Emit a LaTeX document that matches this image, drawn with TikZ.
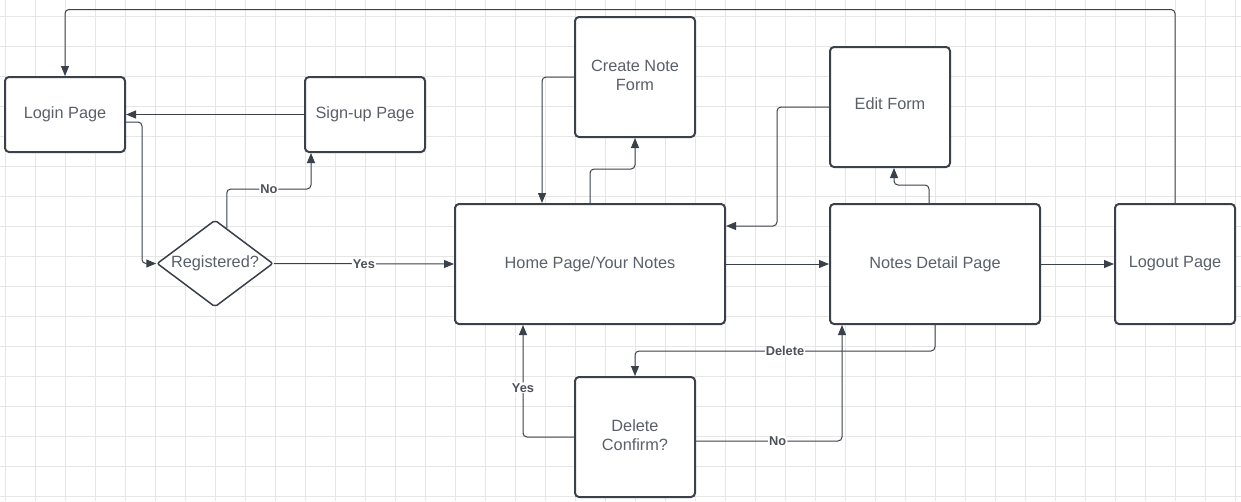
\documentclass[tikz,border=0pt]{standalone}
\usepackage{fontspec}
\setmainfont{Liberation Sans}
\usetikzlibrary{arrows.meta,shapes.geometric,calc}
\definecolor{gridc}{HTML}{E6E6E6}
\definecolor{linec}{HTML}{3A414A}
\definecolor{textc}{HTML}{5A6069}
\definecolor{lblc}{HTML}{4D5159}
\tikzset{
  box/.style={draw=linec, line width=2pt, fill=white, rounded corners=4pt, inner sep=0pt,
    text=textc, font=\fontsize{16.3}{20}\selectfont, align=center},
  decision/.style={diamond, draw=linec, line width=1.5pt, fill=white, inner sep=0pt,
    aspect=1.333, minimum width=116pt, minimum height=87pt, rounded corners=2pt,
    text=textc, font=\fontsize{16.3}{20}\selectfont},
  conn/.style={draw=linec, line width=1pt, rounded corners=4pt, -{Triangle[length=10pt,width=8pt]}},
  lbl/.style={fill=white, inner sep=1pt, text=lblc, font=\bfseries\fontsize{12.8}{14}\selectfont},
  gridline/.style={draw=gridc, line width=1pt}
}
\begin{document}
\begin{tikzpicture}[x=1pt,y=-1pt]
\useasboundingbox[fill=white] (0,0) rectangle (1241,501);
\foreach \gx in {5,35,...,1235} \draw[gridline] (\gx,0) -- (\gx,501);
\foreach \gy in {16,46,...,496} \draw[gridline] (0,\gy) -- (1241,\gy);

\node[box, minimum width=120pt, minimum height=75pt] (login) at (65,114.5) {Login Page};
\node[box, minimum width=120pt, minimum height=75pt] (signup) at (365,114.5) {Sign-up Page};
\node[decision] (reg) at (215,263.5) {Registered?};
\node[box, minimum width=270pt, minimum height=120pt] (home) at (590,264) {Home Page/Your Notes};
\node[box, minimum width=120pt, minimum height=120pt] (create) at (635,77) {\raisebox{8pt}{\begin{tabular}{@{}c@{}}Create Note\\[-0.5pt]Form\end{tabular}}};
\node[box, minimum width=120pt, minimum height=120pt] (edit) at (890,107) {\raisebox{6pt}{Edit Form}};
\node[box, minimum width=210pt, minimum height=120pt] (detail) at (935,264) {Notes Detail Page};
\node[box, minimum width=120pt, minimum height=120pt] (logout) at (1175,264) {Logout Page};
\node[box, minimum width=120pt, minimum height=120pt] (delconf) at (635,437) {\raisebox{8pt}{\begin{tabular}{@{}c@{}}Delete\\[-0.5pt]Confirm?\end{tabular}}};

\coordinate (topy) at (0,9.5);
\coordinate (noy) at (0,189);

% logout back to login
\draw[conn] (logout.north) -- (logout.north |- topy) -| (login.north);
% sign-up to login
\draw[conn] (signup.west) -- (login.east);
% login to registered
\draw[conn] ([yshift=-7.5pt]login.east) -- ++(16,0) |- (reg.west);
% registered -> sign-up (No)
\coordinate (regno) at ($(reg.north)!0.2!(reg.east)$);
\draw[conn] (regno) -- (regno |- noy) -| node[lbl, pos=0.25] {No} ([xshift=7pt]signup.south west);
% registered -> home (Yes)
\draw[conn] (reg.east) -- node[lbl] {Yes} (home.west);
% home -> create
\draw[conn] (home.north) -- ++(0,-34) -| (create.south);
% create -> home
\draw[conn] (create.west) -| ([xshift=-48pt]home.north);
% home -> detail
\draw[conn] (home.east) -- (detail.west);
% detail -> edit
\draw[conn] ([xshift=-6pt]detail.north) -- ++(0,-18) -| ([xshift=4pt]edit.south);
% edit -> home
\draw[conn] (edit.west) -- ++(-52,0) |- ([yshift=38pt]home.east);
% detail -> logout
\draw[conn] (detail.east) -- (logout.west);
% detail -> delete confirm
\draw[conn] (detail.south) -- ++(0,26) -| node[lbl, pos=0.25] {Delete} (delconf.north);
% delete confirm -> home (Yes)
\draw[conn] (delconf.west) -| node[lbl, pos=0.72] {Yes} ([xshift=-67pt]home.south);
% delete confirm -> detail (No)
\draw[conn] ([yshift=-4pt]delconf.east) -| node[lbl, pos=0.28] {No} ([xshift=13pt]detail.south west);
\end{tikzpicture}
\end{document}
